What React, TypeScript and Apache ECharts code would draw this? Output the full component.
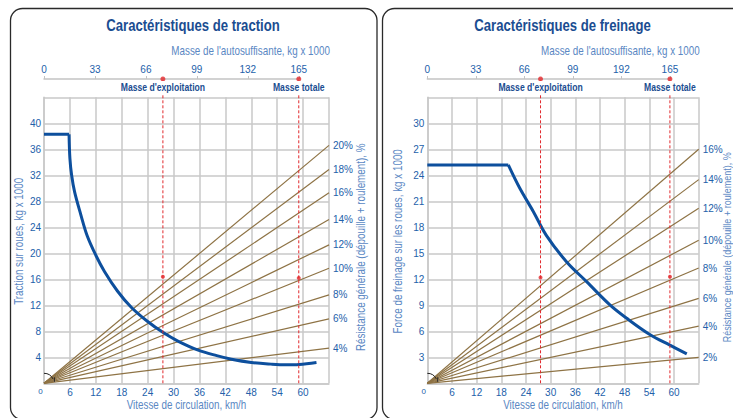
import React, { useEffect, useRef } from 'react';
import * as echarts from 'echarts';

// ---------- data ----------
const speedMax = 66;
const speedStep = 6;
const massMax = 165;
const massStep = 33;
const massScaleEndSpeed = 59; // speed under the 165 t mark of the top scale

const tractionMassLabels = ['0', '33', '66', '99', '132', '165'];
const brakingMassLabels = ['0', '33', '66', '99', '192', '165'];

const massMarkNames = ["Masse d'exploitation", 'Masse totale'];
const massMarkValues = [77, 165];

const tractionFlat: number[][] = [[0, 38.3], [5.8, 38.3]];
const tractionCurve: number[][] = [
  [5.8, 38.3], [6.0, 34.6], [6.4, 32.0], [7.1, 29.4], [8.5, 26.0], [10, 22.7],
  [12, 19.7], [14, 17.2], [17, 14.2], [20.2, 11.7], [24, 9.5], [27.6, 7.8],
  [31, 6.5], [35.7, 5.1], [40, 4.25], [43.4, 3.7], [48, 3.2], [52.6, 2.95],
  [56, 2.85], [59.1, 2.9], [63.1, 3.2],
];
const tractionResistLabels = ['20%', '18%', '16%', '14%', '12%', '10%', '8%', '6%', '4%'];
const tractionResistEnd = [36.6, 32.9, 29.3, 25.2, 21.3, 17.7, 13.6, 9.9, 5.4];
const tractionDots = [16.4, 16.2];

const brakingFlat: number[][] = [[0, 25.2], [19.7, 25.2]];
const brakingCurve: number[][] = [
  [19.7, 25.2], [22.5, 22.5], [25.8, 19.8], [28.9, 17.1], [33.9, 14.0],
  [38.8, 11.7], [44.4, 9.05], [48.5, 7.5], [54.2, 5.6], [59, 4.4], [63.1, 3.4],
];
const brakingResistLabels = ['16%', '14%', '12%', '10%', '8%', '6%', '4%', '2%'];
const brakingResistEnd = [27.0, 23.5, 20.2, 16.5, 13.3, 9.8, 6.6, 3.0];
const brakingDots = [12.2, 12.3];

// ---------- styles ----------
const SANS = '"Liberation Sans", Arial, sans-serif';
const NARROW_SCALE = 0.82;
const GRID = '#c9c9c9';
const TICK = '#2361aa';
const NAME = '#5a87c3';
const TITLE = '#1b4d91';
const CURVE = '#0d4f9d';
const BROWN = '#8e7345';
const RED = '#e2282c';

const PLOT_TOP = 97.3;
const PLOT_H = 286;
const MASS_Y = 79;

const panels = [
  {
    title: 'Caractéristiques de traction',
    titleX: 193,
    left: 44,
    width: 285,
    yMax: 44,
    yStep: 4,
    yName: 'Traction sur roues, kg x 1000',
    yNameX: 19,
    resName: 'Résistance générale (dépouille + roulement), %',
    resNameX: 361,
    resNameSize: 12,
    massLabels: tractionMassLabels,
    flat: tractionFlat,
    curve: tractionCurve,
    resLabels: tractionResistLabels,
    resEnd: tractionResistEnd,
    dots: tractionDots,
  },
  {
    title: 'Caractéristiques de freinage',
    titleX: 562.5,
    left: 427.3,
    width: 271.4,
    yMax: 33,
    yStep: 3,
    yName: 'Force de freinage sur les roues, kg x 1000',
    yNameX: 398,
    resName: 'Résistance générale (dépouille + roulement), %',
    resNameX: 727.5,
    resNameSize: 11,
    massLabels: brakingMassLabels,
    flat: brakingFlat,
    curve: brakingCurve,
    resLabels: brakingResistLabels,
    resEnd: brakingResistEnd,
    dots: brakingDots,
  },
];

function buildOption() {
  const grid: any[] = [];
  const xAxis: any[] = [];
  const yAxis: any[] = [];
  const series: any[] = [];

  panels.forEach((cfg, p) => {
    const gMain = 2 * p;
    const gMass = 2 * p + 1;
    const xMain = 2 * p;
    const xMass = 2 * p + 1;
    const yMain = 3 * p;
    const yMass = 3 * p + 2;

    grid.push({ left: cfg.left, top: PLOT_TOP, width: cfg.width, height: PLOT_H });
    grid.push({
      left: cfg.left,
      top: MASS_Y,
      width: (cfg.width * massScaleEndSpeed) / speedMax,
      height: PLOT_TOP + PLOT_H - MASS_Y,
    });

    xAxis.push({
      gridIndex: gMain,
      type: 'value',
      min: 0,
      max: speedMax,
      interval: speedStep,
      position: 'bottom',
      axisLine: { show: true, lineStyle: { color: GRID, width: 1.5 } },
      axisTick: { show: false },
      splitLine: { show: true, lineStyle: { color: GRID, width: 1.5 } },
      axisLabel: {
        margin: 4,
        color: TICK,
        fontFamily: SANS,
        fontSize: 10,
        formatter: (v: number) => (v === 0 ? '{z|0}' : v === speedMax ? '' : String(v)),
        rich: { z: { fontSize: 8, color: TICK, fontFamily: SANS, padding: [0, 7, 0, 0] } },
      },
    });
    xAxis.push({
      gridIndex: gMass,
      type: 'value',
      min: 0,
      max: massMax,
      interval: massStep,
      position: 'top',
      axisLine: { show: true, onZero: false, lineStyle: { color: '#c4c4c4', width: 1.5 } },
      axisTick: { show: true, length: 3, lineStyle: { color: '#c4c4c4', width: 1 } },
      splitLine: { show: false },
      axisLabel: {
        margin: 5,
        color: TICK,
        fontFamily: SANS,
        fontSize: 10,
        formatter: (v: number) => cfg.massLabels[Math.round(v / massStep)] ?? '',
      },
    });

    yAxis.push({
      gridIndex: gMain,
      type: 'value',
      min: 0,
      max: cfg.yMax,
      interval: cfg.yStep,
      position: 'left',
      axisLine: { show: true, lineStyle: { color: GRID, width: 1.5 } },
      axisTick: { show: false },
      splitLine: { show: true, lineStyle: { color: GRID, width: 1.5 } },
      axisLabel: {
        margin: 3,
        color: TICK,
        fontFamily: SANS,
        fontSize: 10,
        formatter: (v: number) => (v === 0 || v === cfg.yMax ? '' : String(v)),
      },
    });
    yAxis.push({
      gridIndex: gMain,
      type: 'value',
      min: 0,
      max: cfg.yMax,
      position: 'right',
      axisLine: { show: false },
      axisTick: { show: false },
      axisLabel: { show: false },
      splitLine: { show: false },
    });
    yAxis.push({ gridIndex: gMass, type: 'value', min: 0, max: 1, show: false });

    // resistance rays
    cfg.resLabels.forEach((lab, i) => {
      series.push({
        type: 'line',
        name: lab,
        xAxisIndex: xMain,
        yAxisIndex: yMain,
        data: [[0, 0], [speedMax, cfg.resEnd[i]]],
        symbol: 'none',
        silent: true,
        z: 2,
        lineStyle: { color: BROWN, width: 1.2 },
        endLabel: {
          show: true,
          formatter: '{a}',
          color: TICK,
          fontFamily: SANS,
          fontSize: 10,
          distance: 4,
        },
      });
    });

    // characteristic curve
    series.push({
      type: 'line',
      name: cfg.title + ' (palier)',
      xAxisIndex: xMain,
      yAxisIndex: yMain,
      data: cfg.flat,
      symbol: 'none',
      silent: true,
      z: 4,
      lineStyle: { color: CURVE, width: 3 },
    });
    series.push({
      type: 'line',
      name: cfg.title,
      xAxisIndex: xMain,
      yAxisIndex: yMain,
      data: cfg.curve,
      smooth: 0.35,
      symbol: 'none',
      silent: true,
      z: 4,
      lineStyle: { color: CURVE, width: 3 },
    });

    // mass marks: dashed verticals + dots
    massMarkValues.forEach((m) => {
      series.push({
        type: 'line',
        xAxisIndex: xMass,
        yAxisIndex: yMass,
        data: [[m, 0], [m, 1]],
        symbol: 'none',
        silent: true,
        z: 5,
        lineStyle: { color: RED, width: 1, type: [3, 2] },
      });
    });
    series.push({
      type: 'scatter',
      xAxisIndex: xMass,
      yAxisIndex: yMass,
      symbolSize: 5,
      silent: true,
      z: 6,
      itemStyle: { color: RED },
      data: massMarkValues.map((m) => [m, 1]),
    });
    series.push({
      type: 'scatter',
      xAxisIndex: xMain,
      yAxisIndex: yMain,
      symbolSize: 4,
      silent: true,
      z: 6,
      itemStyle: { color: RED },
      data: massMarkValues.map((m, i) => [(m / massMax) * massScaleEndSpeed, cfg.dots[i]]),
    });
  });

  return { animation: false, grid, xAxis, yAxis, series };
}

function narrowText(
  text: string,
  x: number,
  y: number,
  font: string,
  fill: string,
  align: string,
  rotation = 0,
  extra: any = {}
) {
  return {
    type: 'text',
    x,
    y,
    rotation,
    scaleX: NARROW_SCALE,
    silent: true,
    z: 20,
    style: { text, font, fill, align, verticalAlign: 'middle', ...extra },
  };
}

export default function App() {
  const ref = useRef<HTMLDivElement>(null);
  useEffect(() => {
    document.body.style.margin = '0';
    if (!ref.current) return;
    const chart = echarts.init(ref.current, null, { renderer: 'svg' });
    chart.setOption(buildOption());

    const graphic: any[] = [
      {
        type: 'rect',
        silent: true,
        z: 0,
        shape: { x: 10.5, y: 8.5, width: 366.5, height: 411, r: 12 },
        style: { fill: 'none', stroke: '#2a2a2a', lineWidth: 1.3 },
      },
      {
        type: 'rect',
        silent: true,
        z: 0,
        shape: { x: 382.5, y: 8.5, width: 420, height: 411, r: 12 },
        style: { fill: 'none', stroke: '#2a2a2a', lineWidth: 1.3 },
      },
    ];
    panels.forEach((cfg, p) => {
      const plotMidX = cfg.left + cfg.width / 2;
      const plotMidY = PLOT_TOP + PLOT_H / 2;
      graphic.push(narrowText(cfg.title, cfg.titleX, 26, `bold 16px ${SANS}`, TITLE, 'center'));
      graphic.push(
        narrowText("Masse de l'autosuffisante, kg x 1000", cfg.left + cfg.width + 1, 51, `12px ${SANS}`, NAME, 'right')
      );
      graphic.push(narrowText('Vitesse de circulation, km/h', plotMidX, 405, `12px ${SANS}`, NAME, 'center'));
      graphic.push(narrowText(cfg.yName, cfg.yNameX, plotMidY + 1, `12px ${SANS}`, NAME, 'center', Math.PI / 2));
      graphic.push(
        narrowText(cfg.resName, cfg.resNameX, plotMidY + 7, `${cfg.resNameSize}px ${SANS}`, NAME, 'center', Math.PI / 2)
      );

      massMarkValues.forEach((m, i) => {
        const pt = chart.convertToPixel({ xAxisIndex: 2 * p + 1, yAxisIndex: 3 * p + 2 }, [m, 1]) as number[];
        graphic.push(
          narrowText(massMarkNames[i], pt[0], pt[1] + 8.5, `bold 10.5px ${SANS}`, TITLE, 'center', 0, {
            backgroundColor: '#ffffff',
            padding: [1, 2],
          })
        );
      });

      const o = chart.convertToPixel({ xAxisIndex: 2 * p, yAxisIndex: 3 * p }, [0, 0]) as number[];
      graphic.push({
        type: 'arc',
        silent: true,
        shape: { cx: o[0], cy: o[1], r: 10, startAngle: -Math.PI / 2, endAngle: -0.45, clockwise: true },
        style: { stroke: '#222', lineWidth: 1, fill: 'none' },
        z: 10,
      });
      graphic.push({
        type: 'line',
        silent: true,
        shape: { x1: o[0] + 10.4, y1: o[1] - 6, x2: o[0] + 10.4, y2: o[1] - 1.5 },
        style: { stroke: '#222', lineWidth: 1 },
        z: 10,
      });
    });
    chart.setOption({ graphic });

    return () => chart.dispose();
  }, []);
  return <div ref={ref} style={{ width: 733, height: 418 }} />;
}
